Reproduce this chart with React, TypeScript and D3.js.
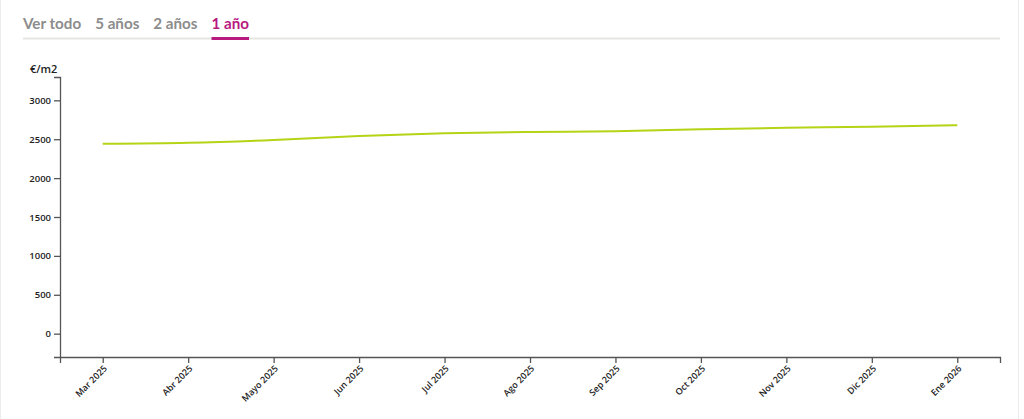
import React, { useEffect, useRef } from "react";
import * as d3 from "d3";

const months = ["Mar 2025", "Abr 2025", "Mayo 2025", "Jun 2025", "Jul 2025", "Ago 2025", "Sep 2025", "Oct 2025", "Nov 2025", "Dic 2025", "Ene 2026"];
const prices = [2442, 2455, 2490, 2541, 2576, 2593, 2602, 2627, 2648, 2661, 2679];
const yTicks = [0, 500, 1000, 1500, 2000, 2500, 3000];
const tabs = ["Ver todo", "5 años", "2 años", "1 año"];
const activeTab = "1 año";

const W = 1024;
const H = 419;

export default function App() {
  const ref = useRef<SVGSVGElement>(null);

  useEffect(() => {
    const svg = d3.select(ref.current);
    svg.selectAll("*").remove();

    // frame
    svg.append("rect").attr("x", 0.5).attr("y", -1).attr("width", 1018).attr("height", H + 2)
      .attr("fill", "#fff").attr("stroke", "#ececec");

    // tabs
    const tabG = svg.append("g");
    tabG.append("line").attr("x1", 23).attr("x2", 1000).attr("y1", 38.5).attr("y2", 38.5)
      .attr("stroke", "#e6e6e1").attr("stroke-width", 2);
    let tx = 23;
    tabs.forEach((t) => {
      const txt = tabG.append("text").attr("x", tx).attr("y", 29).text(t)
        .attr("font-family", "Lato, sans-serif").attr("font-weight", 700).attr("font-size", 15.2)
        .attr("fill", t === activeTab ? "#b8197f" : "#8c8c8c");
      const w = (txt.node() as SVGTextElement).getComputedTextLength();
      if (t === activeTab) {
        tabG.append("rect").attr("x", tx).attr("y", 37).attr("width", w).attr("height", 3).attr("fill", "#b8197f");
      }
      tx += w + 14;
    });

    const x = d3.scalePoint<string>().domain(months).range([60, 1000]).padding(0.5);
    const y = d3.scaleLinear().domain([-300, 3300]).range([357, 77]);

    const font = "'Open Sans', sans-serif";

    const yAxis = svg.append("g").attr("transform", "translate(60,0)")
      .call(d3.axisLeft(y).tickValues(yTicks).tickFormat(d3.format("d")));
    yAxis.selectAll("text").attr("font-family", font).attr("font-size", 9.5).attr("font-weight", 600).attr("fill", "#222");
    yAxis.selectAll("path, line").attr("stroke", "#555").attr("stroke-width", 1.3);

    const xAxis = svg.append("g").attr("transform", "translate(0,357)")
      .call(d3.axisBottom(x));
    xAxis.selectAll("text")
      .attr("font-family", font).attr("font-size", 9).attr("font-weight", 600).attr("fill", "#222")
      .attr("text-anchor", "end").attr("dx", "-0.6em").attr("dy", "0.3em")
      .attr("transform", "rotate(-45)");
    xAxis.selectAll("path, line").attr("stroke", "#555").attr("stroke-width", 1.3);

    svg.append("text").attr("x", 30).attr("y", 73).text("€/m2")
      .attr("font-family", font).attr("font-size", 11).attr("font-weight", 600).attr("fill", "#222");

    const line = d3.line<number>()
      .x((_, i) => x(months[i]) as number)
      .y((d) => y(d))
      .curve(d3.curveMonotoneX);

    svg.append("path").datum(prices).attr("d", line).attr("fill", "none")
      .attr("stroke", "#b4d416").attr("stroke-width", 2);
  }, []);

  return (
    <svg ref={ref} width={W} height={H} style={{ position: "fixed", left: 0, top: 0, background: "#fff" }} />
  );
}
